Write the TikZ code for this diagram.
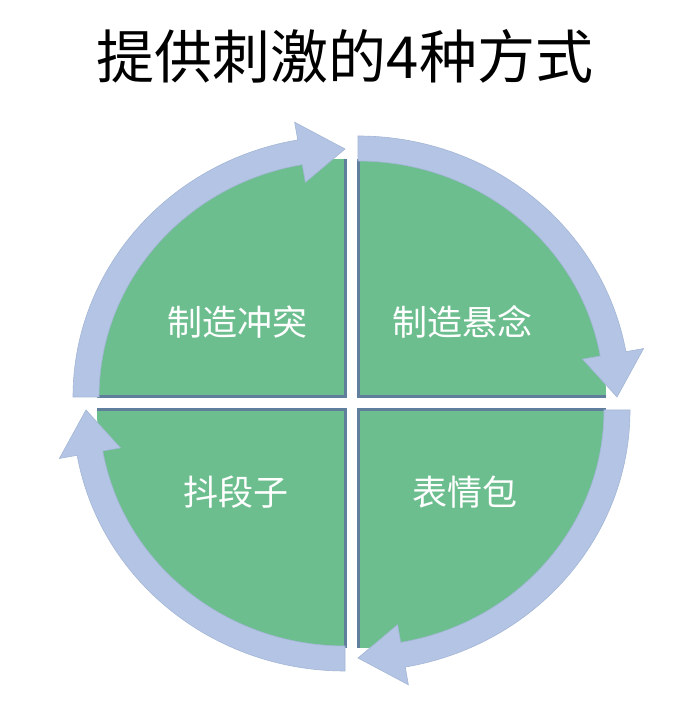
\documentclass[tikz,border=0pt]{standalone}
\usepackage{fontspec}
\newfontfamily\cjk{Noto Sans CJK SC}
\usetikzlibrary{calc}
\definecolor{qgreen}{HTML}{6DBE8F}
\definecolor{qband}{HTML}{B4C4E4}
\definecolor{qedge}{HTML}{5F7F9C}
\tikzset{
  quad/.style={fill=qgreen},
  qline/.style={draw=qedge,line width=3pt},
  band/.style={fill=qband,draw=qband!80!qedge,line width=0.6pt},
  lbl/.style={text=white,font=\cjk\fontsize{35}{35}\selectfont}
}
\begin{document}
\begin{tikzpicture}[x=1pt,y=1pt]
\useasboundingbox[fill=white] (0,0) rectangle (690,701);
\node[font=\cjk\fontsize{58}{58}\selectfont] (title) at (345,645) {提供刺激的4种方式};
\foreach \cx/\cy/\s in {358/304/90, 345/304/180, 345/291/270, 358/291/0} {
  \fill[quad] (\cx,\cy) -- ($(\cx,\cy)+({248*cos(\s)},{238*sin(\s)})$)
     arc[start angle=\s, end angle=\s-90, x radius=248, y radius=238] -- cycle;
  \draw[qline] ($(\cx,\cy)+({248*cos(\s)},{238*sin(\s)})$) -- (\cx,\cy)
     -- ($(\cx,\cy)+({248*cos(\s-90)},{238*sin(\s-90)})$);
  \filldraw[band] ($(\cx,\cy)+({246*cos(\s)},{236*sin(\s)})$)
     arc[start angle=\s, end angle=\s-80, x radius=246, y radius=236]
     -- ($(\cx,\cy)+({228*cos(\s-80)},{218*sin(\s-80)})$)
     -- ($(\cx,\cy)+({259*cos(\s-90)},{248*sin(\s-90)})$)
     -- ($(\cx,\cy)+({290*cos(\s-80)},{279*sin(\s-80)})$)
     -- ($(\cx,\cy)+({272*cos(\s-80)},{261*sin(\s-80)})$)
     arc[start angle=\s-80, end angle=\s, x radius=272, y radius=261] -- cycle;
}
\node[lbl] (a) at (237,379) {制造冲突};
\node[lbl] (b) at (462,379) {制造悬念};
\node[lbl] (c) at (236,209) {抖段子};
\node[lbl] (d) at (465,209) {表情包};
\end{tikzpicture}
\end{document}
